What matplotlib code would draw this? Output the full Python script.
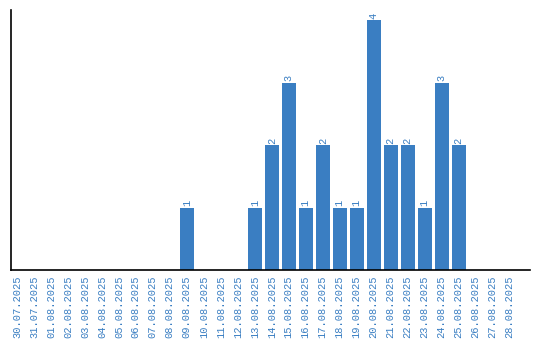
import matplotlib
matplotlib.use("Agg")
import matplotlib.pyplot as plt

# Daily counts, 30.07.2025 - 28.08.2025
dates = [
    "30.07.2025", "31.07.2025", "01.08.2025", "02.08.2025", "03.08.2025",
    "04.08.2025", "05.08.2025", "06.08.2025", "07.08.2025", "08.08.2025",
    "09.08.2025", "10.08.2025", "11.08.2025", "12.08.2025", "13.08.2025",
    "14.08.2025", "15.08.2025", "16.08.2025", "17.08.2025", "18.08.2025",
    "19.08.2025", "20.08.2025", "21.08.2025", "22.08.2025", "23.08.2025",
    "24.08.2025", "25.08.2025", "26.08.2025", "27.08.2025", "28.08.2025",
]
counts = [0, 0, 0, 0, 0, 0, 0, 0, 0, 0,
          1, 0, 0, 0, 1, 2, 3, 1, 2, 1,
          1, 4, 2, 2, 1, 3, 2, 0, 0, 0]

blue = "#3a7ec2"
mono = "Liberation Mono"

fig = plt.figure(figsize=(5.4, 3.4), dpi=100)
ax = fig.add_axes([11 / 540, 70 / 340, 519 / 540, 260 / 340])

x = range(len(dates))
ax.bar(x, counts, width=0.82, color=blue)

for i, v in enumerate(counts):
    if v > 0:
        ax.text(i, v + 0.02, str(v), rotation=90, ha="center", va="bottom",
                color=blue, fontsize=7.5, family=mono)

ax.set_xlim(-0.35, 30.2)
ax.set_ylim(0, 4.16)
ax.set_xticks(list(x))
ax.set_xticklabels(dates, rotation=90, color=blue, fontsize=7.5, family=mono)
ax.set_yticks([])
ax.tick_params(axis="x", length=0, pad=4)

for side in ["top", "right"]:
    ax.spines[side].set_visible(False)
ax.spines["left"].set_linewidth(1.2)
ax.spines["bottom"].set_linewidth(1.2)

plt.savefig("out.png", dpi=100)
